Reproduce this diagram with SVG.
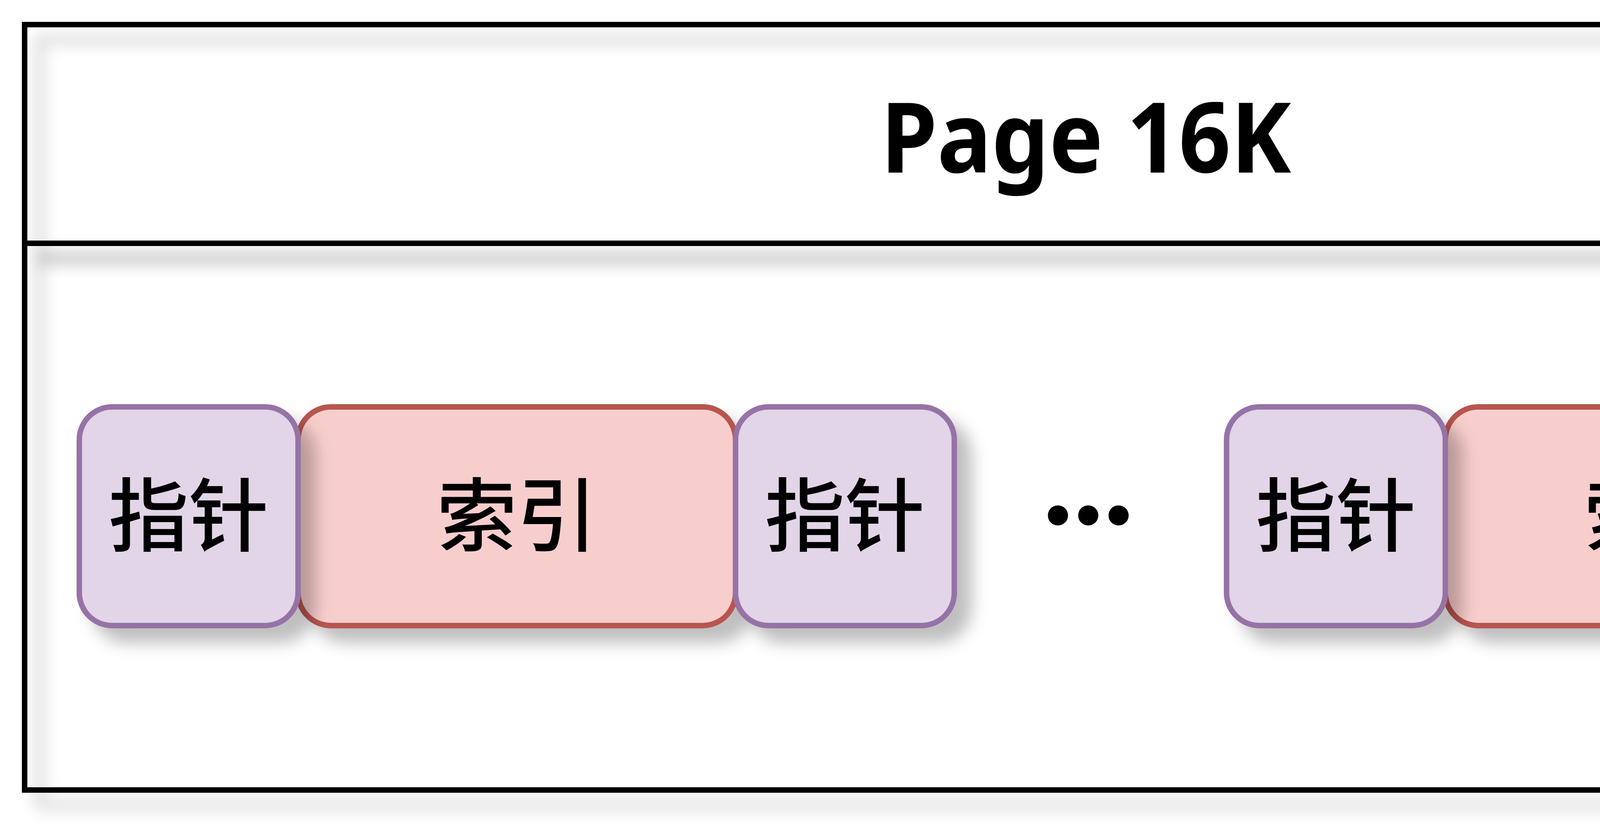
<svg xmlns="http://www.w3.org/2000/svg" width="5614" height="2128" viewBox="0 0 5614 2128">
  <defs>
    <filter id="sh" filterUnits="userSpaceOnUse" x="0" y="0" width="5614" height="2128">
      <feGaussianBlur in="SourceAlpha" stdDeviation="20"/>
      <feOffset dx="38" dy="38" result="b"/>
      <feFlood flood-color="#000" flood-opacity="0.25"/>
      <feComposite in2="b" operator="in"/>
      <feMerge><feMergeNode/><feMergeNode in="SourceGraphic"/></feMerge>
    </filter>
    <style>
      .frame { fill: none; stroke: #000; stroke-width: 14; }
      .ptr { fill: #e1d5e7; stroke: #9673a6; stroke-width: 14; }
      .idx { fill: #f8cecc; stroke: #b85450; stroke-width: 14; }
      .cjk { font-family: "Noto Sans CJK SC", "Noto Sans", sans-serif; font-weight: 500; font-size: 205px; fill: #000; text-anchor: middle; }
      .title { font-family: "Noto Sans", "Open Sans", sans-serif; font-weight: bold; font-size: 250px; fill: #000; text-anchor: middle; }
      .dots { font-family: Lato, "Noto Sans", sans-serif; font-weight: bold; font-size: 340px; fill: #000; text-anchor: middle; }
    </style>
  </defs>
  <rect width="5614" height="2128" fill="#fff"/>

  <g id="header">
    <rect class="frame" x="63" y="63" width="5460" height="560" filter="url(#sh)"/>
    <text class="title" x="2780" y="442" textLength="1050" lengthAdjust="spacingAndGlyphs">Page 16K</text>
  </g>
  <g id="body">
    <rect class="frame" x="63" y="623" width="5460" height="1400" filter="url(#sh)"/>
  </g>

  <g id="index1">
    <rect class="idx" x="763" y="1042" width="1120" height="560" rx="84" ry="84" filter="url(#sh)"/>
    <text class="cjk" x="1323" y="1395">索引</text>
  </g>
  <g id="pointer1">
    <rect class="ptr" x="203" y="1042" width="560" height="560" rx="84" ry="84" filter="url(#sh)"/>
    <text class="cjk" x="483" y="1395">指针</text>
  </g>
  <g id="pointer2">
    <rect class="ptr" x="1883" y="1042" width="560" height="560" rx="84" ry="84" filter="url(#sh)"/>
    <text class="cjk" x="2163" y="1395">指针</text>
  </g>

  <g id="ellipsis">
    <text class="dots" x="2786" y="1343" textLength="236" lengthAdjust="spacing">...</text>
  </g>

  <g id="index2">
    <rect class="idx" x="3700" y="1042" width="1120" height="560" rx="84" ry="84" filter="url(#sh)"/>
    <text class="cjk" x="4260" y="1395">索引</text>
  </g>
  <g id="pointer3">
    <rect class="ptr" x="3140" y="1042" width="560" height="560" rx="84" ry="84" filter="url(#sh)"/>
    <text class="cjk" x="3420" y="1395">指针</text>
  </g>
  <g id="pointer4">
    <rect class="ptr" x="4820" y="1042" width="560" height="560" rx="84" ry="84" filter="url(#sh)"/>
    <text class="cjk" x="5100" y="1395">指针</text>
  </g>

  <g id="connectors"/>
</svg>
